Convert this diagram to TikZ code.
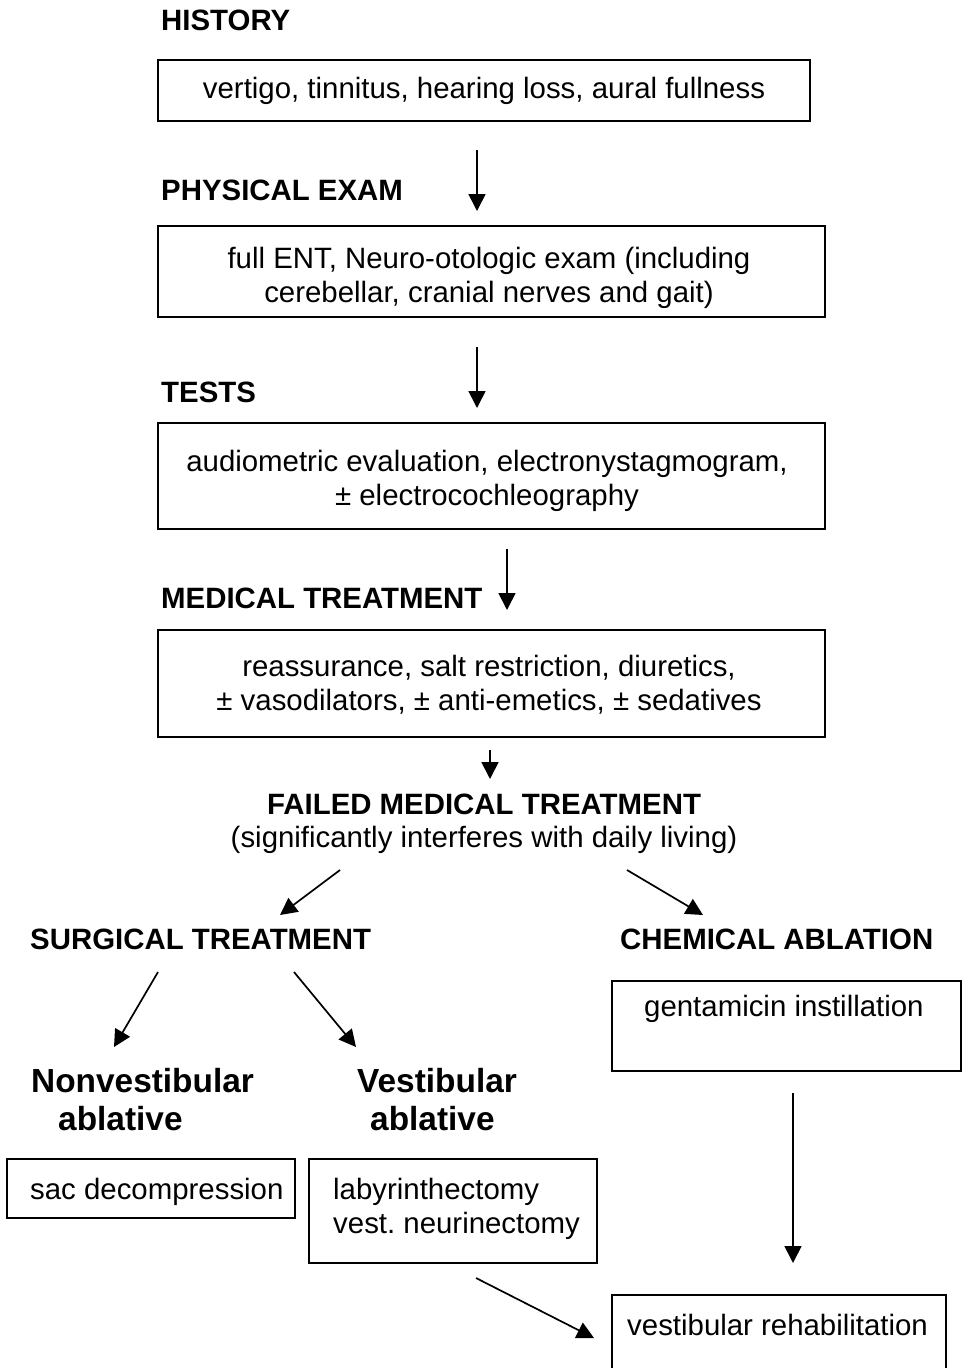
\documentclass[tikz,border=0pt]{standalone}
\usepackage{fontspec}
\setmainfont{Liberation Sans}
\usetikzlibrary{arrows.meta}
\newcommand\normfont{\fontsize{29.4}{34}\selectfont}
\newcommand\headfont{\bfseries\fontsize{29.4}{34}\selectfont}
\newcommand\bigfont{\bfseries\fontsize{33.4}{38.4}\selectfont}
\tikzset{
  box/.style={draw, line width=1.6pt, inner sep=0pt},
  btxt/.style={inner sep=0pt, align=center, font=\normfont},
  head/.style={anchor=base west, inner sep=0pt, font=\headfont},
  big/.style={anchor=base west, inner sep=0pt, font=\bigfont},
  txt/.style={anchor=base west, inner sep=0pt, font=\normfont},
  arr/.style={line width=1.7pt, -{Triangle[length=17pt,width=17pt]}},
}
\begin{document}
\frenchspacing
\begin{tikzpicture}[x=1pt,y=-1pt]
\useasboundingbox (0,0) rectangle (963,1368);
\clip (0,0) rectangle (963,1368);
\fill[white] (0,0) rectangle (963,1368);

% headings
\node[head] (hHist) at (161,30.5) {HISTORY};
\node[head] (hPhys) at (161,200.5) {PHYSICAL EXAM};
\node[head] (hTest) at (161,402.5) {TESTS};
\node[head] (hMed) at (161,608.5) {MEDICAL TREATMENT};
\node[head, anchor=base] (hFail) at (484,814.5) {FAILED MEDICAL TREATMENT};
\node[txt, anchor=base] (hFailSub) at (484,847.5) {(significantly interferes with daily living)};
\node[head] (hSurg) at (30,949.5) {SURGICAL TREATMENT};
\node[head] (hChem) at (620,949.5) {CHEMICAL ABLATION};
\node[big] (hNon1) at (31,1092) {Nonvestibular};
\node[big] (hNon2) at (58,1130.4) {ablative};
\node[big] (hVes1) at (357,1092) {Vestibular};
\node[big] (hVes2) at (370,1130.4) {ablative};

% boxes
\node[box, minimum width=652pt, minimum height=61pt] (b1) at (484,90.5) {};
\node[btxt] (b1t) at (484,90.5) {vertigo, tinnitus, hearing loss, aural fullness};
\node[box, minimum width=667pt, minimum height=91pt] (b2) at (491.5,271.5) {};
\node[btxt] (b2t) at (489,277.5)
  {full ENT, Neuro-otologic exam (including\\cerebellar, cranial nerves and gait)};
\node[box, minimum width=667pt, minimum height=106pt] (b3) at (491.5,476) {};
\node[btxt] (b3t) at (487,481)
  {audiometric evaluation, electronystagmogram,\\± electrocochleography};
\node[box, minimum width=667pt, minimum height=107pt] (b4) at (491.5,683.5) {};
\node[btxt] (b4t) at (489,684.5)
  {reassurance, salt restriction, diuretics,\\± vasodilators, ± anti-emetics, ± sedatives};

\node[box, minimum width=288pt, minimum height=59pt] (sac) at (151,1188.5) {};
\node[txt] (sacT) at (30,1199) {sac decompression};
\node[box, minimum width=288pt, minimum height=104pt] (lab) at (453,1211) {};
\node[txt] (labT1) at (333,1199) {labyrinthectomy};
\node[txt] (labT2) at (333,1233) {vest. neurinectomy};
\node[box, minimum width=349pt, minimum height=90pt] (gen) at (786.5,1026) {};
\node[txt] (genT) at (644,1016) {gentamicin instillation};
\node[box, minimum width=334pt, minimum height=130pt, anchor=north] (reh) at (779,1294) {};
\node[txt] (rehT) at (627,1335) {vestibular rehabilitation};

% arrow end points
\coordinate (a1s) at (477,150);  \coordinate (a1e) at (477,211);
\coordinate (a2s) at (477,347);  \coordinate (a2e) at (477,408);
\coordinate (a3s) at (507,549);  \coordinate (a3e) at (507,610);
\coordinate (a4s) at (490,750);  \coordinate (a4e) at (490,779);
\coordinate (a5s) at (340,870);  \coordinate (a5e) at (280,915);
\coordinate (a6s) at (627,870);  \coordinate (a6e) at (703,915);
\coordinate (a7s) at (158,972);  \coordinate (a7e) at (114,1047);
\coordinate (a8s) at (294,972);  \coordinate (a8e) at (356,1047);
\coordinate (a9s) at (793,1093); \coordinate (a9e) at (793,1263);
\coordinate (a10s) at (476,1278); \coordinate (a10e) at (594,1338);

\draw[arr] (a1s) -- (a1e);
\draw[arr] (a2s) -- (a2e);
\draw[arr] (a3s) -- (a3e);
\draw[arr] (a4s) -- (a4e);
\draw[arr] (a5s) -- (a5e);
\draw[arr] (a6s) -- (a6e);
\draw[arr] (a7s) -- (a7e);
\draw[arr] (a8s) -- (a8e);
\draw[arr] (a9s) -- (a9e);
\draw[arr] (a10s) -- (a10e);
\end{tikzpicture}
\end{document}
